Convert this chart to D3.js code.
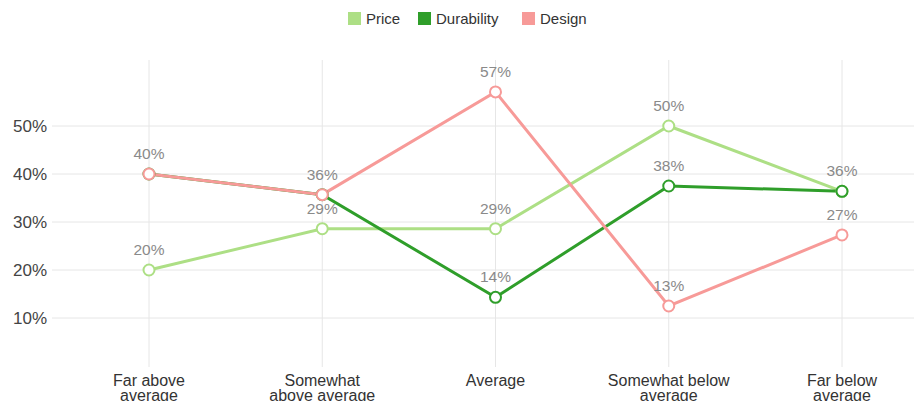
<!DOCTYPE html>
<html>
<head>
<meta charset="utf-8">
<script src="https://cdn.jsdelivr.net/npm/d3@7"></script>
<style>
  body { margin: 0; background: #fff; }
  text { font-family: "Liberation Sans", Arial, sans-serif; }
</style>
</head>
<body>
<div id="chart"></div>
<script>
const categories = [["Far above", "average"], ["Somewhat", "above average"], ["Average"], ["Somewhat below", "average"], ["Far below", "average"]];
const seriesNames = ["Price", "Durability", "Design"];
const priceValues = [20, 28.6, 28.6, 50, 36.4];
const durabilityValues = [40, 35.7, 14.3, 37.5, 36.4];
const designValues = [40, 35.7, 57.1, 12.5, 27.3];
const yTicks = [10, 20, 30, 40, 50];
const colors = ["#addf85", "#2f9e2a", "#f79a98"];

const width = 914, height = 401;
const svg = d3.select("#chart").append("svg").attr("width", width).attr("height", height);

const x = d3.scalePoint().domain(d3.range(categories.length)).range([149, 842]);
const y = d3.scaleLinear().domain([0, 63.75]).range([366, 60]);

// horizontal grid
svg.selectAll("line.hgrid")
   .data(yTicks)
   .enter()
   .append("line")
   .attr("x1", 52).attr("x2", width)
   .attr("y1", d => y(d)).attr("y2", d => y(d))
   .style("stroke", "#e6e6e6").style("stroke-width", 1);

// vertical grid
svg.selectAll("line.vgrid")
   .data(d3.range(categories.length))
   .enter()
   .append("line")
   .attr("x1", d => x(d)).attr("x2", d => x(d))
   .attr("y1", 60).attr("y2", 367)
   .style("stroke", "#e6e6e6").style("stroke-width", 1);

// y axis labels
svg.selectAll("text.ylab")
   .data(yTicks)
   .enter()
   .append("text")
   .attr("x", 47)
   .attr("y", d => y(d) + 6)
   .attr("text-anchor", "end")
   .style("font-size", "17px")
   .style("fill", "#444")
   .text(d => d + "%");

// x axis labels
const xl = svg.selectAll("text.xlab")
   .data(categories)
   .enter()
   .append("text")
   .attr("text-anchor", "middle")
   .style("font-size", "16px")
   .style("fill", "#333");
xl.selectAll("tspan")
  .data((d, i) => d.map(t => ({t, i})))
  .enter()
  .append("tspan")
  .attr("x", d => x(d.i))
  .attr("y", (d, j) => 386 + j * 15)
  .text(d => d.t);

const series = [priceValues, durabilityValues, designValues];
const line = d3.line().x((d, i) => x(i)).y(d => y(d));

series.forEach((vals, s) => {
    svg.append("path")
       .datum(vals)
       .attr("d", line)
       .style("fill", "none")
       .style("stroke", colors[s])
       .style("stroke-width", 3);
});

// labels: skip a label when the same text is already at that spot
const seen = new Set();
series.forEach((vals, s) => {
    svg.selectAll("circle.s" + s)
       .data(vals)
       .enter()
       .append("circle")
       .attr("cx", (d, i) => x(i))
       .attr("cy", d => y(d))
       .attr("r", 5.5)
       .style("fill", "#fff")
       .style("stroke", colors[s])
       .style("stroke-width", 2);
    const labs = vals.map((v, i) => ({v, i})).filter(d => {
        const k = d.i + ":" + Math.round(d.v);
        if (seen.has(k)) return false;
        seen.add(k);
        return true;
    });
    svg.selectAll("text.l" + s)
       .data(labs)
       .enter()
       .append("text")
       .attr("x", d => x(d.i))
       .attr("y", d => y(d.v) - 15)
       .attr("text-anchor", "middle")
       .style("font-size", "15.5px")
       .style("fill", "#8a8a8a")
       .text(d => Math.round(d.v) + "%");
});

// legend
const legendX = [348, 418, 522];
const legend = svg.selectAll("g.legend")
   .data(seriesNames)
   .enter()
   .append("g")
   .attr("transform", (d, i) => `translate(${legendX[i]},12)`);
legend.append("rect")
   .attr("width", 13).attr("height", 13)
   .style("fill", (d, i) => colors[i]);
legend.append("text")
   .attr("x", 18).attr("y", 12)
   .style("font-size", "15px")
   .style("fill", "#333")
   .text(d => d);
</script>
</body>
</html>
